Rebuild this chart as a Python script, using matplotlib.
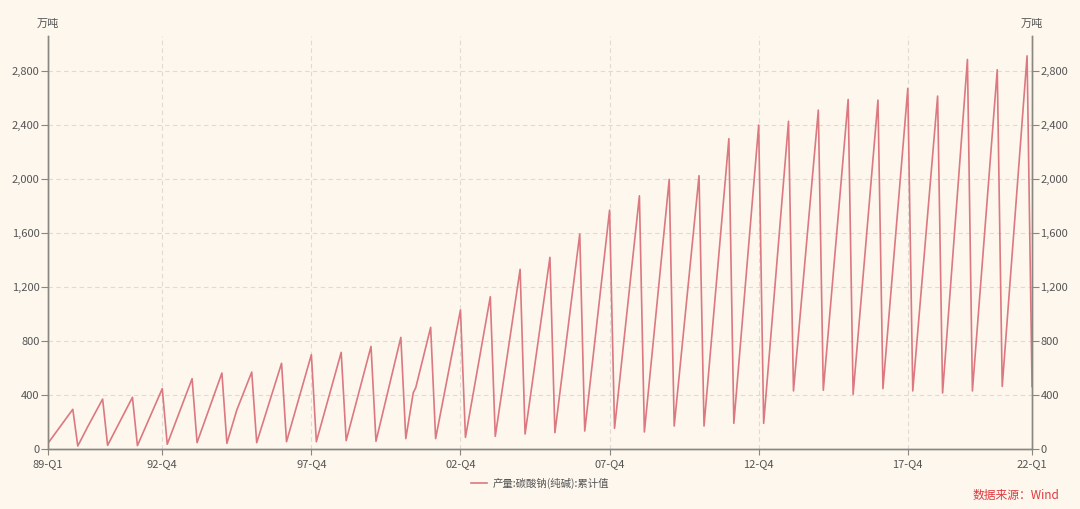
import matplotlib
matplotlib.use("Agg")
import matplotlib.pyplot as plt
import pandas as pd

plt.rcParams['font.family'] = ['Noto Sans CJK SC', 'DejaVu Sans']

# Cumulative soda ash output (万吨): Feb start, year-end peak, visible kinks
months = [
    "1989-02", "1989-12", "1990-02", "1990-06", "1990-12", "1991-02", "1991-12",
    "1992-02", "1992-12", "1993-02", "1993-12", "1994-02", "1994-12",
    "1995-02", "1995-06", "1995-12", "1996-02", "1996-12", "1997-02", "1997-12",
    "1998-02", "1998-12", "1999-02", "1999-12", "2000-02", "2000-12",
    "2001-02", "2001-05", "2001-06", "2001-12", "2002-02", "2002-12",
    "2003-02", "2003-12", "2004-02", "2004-12", "2005-02", "2005-12",
    "2006-02", "2006-12", "2007-02", "2007-12", "2008-02", "2008-12",
    "2009-02", "2009-12", "2010-02", "2010-12", "2011-02", "2011-12",
    "2012-02", "2012-12", "2013-02", "2013-12", "2014-02", "2014-12",
    "2015-02", "2015-12", "2016-02", "2016-12", "2017-02", "2017-12",
    "2018-02", "2018-12", "2019-02", "2019-12", "2020-02", "2020-12",
    "2021-02", "2021-12", "2022-02",
]
values = [
    42, 294, 22, 165, 370, 27, 383,
    25, 447, 35, 521, 47, 563,
    42, 289, 570, 47, 635, 54, 699,
    54, 716, 62, 760, 57, 827,
    77, 417, 454, 901, 77, 1030,
    86, 1128, 94, 1331, 111, 1420,
    121, 1593, 133, 1770, 153, 1876,
    126, 1998, 170, 2025, 170, 2299,
    190, 2400, 190, 2428, 430, 2511,
    435, 2590, 405, 2585, 447, 2672,
    430, 2615, 415, 2886, 430, 2810,
    464, 2913, 462,
]
tick_months = ["1989-02", "1992-12", "1997-12", "2002-12", "2007-12", "2012-12", "2017-12", "2022-02"]
tick_labels = ["89-Q1", "92-Q4", "97-Q4", "02-Q4", "07-Q4", "12-Q4", "17-Q4", "22-Q1"]
y_ticks = [0, 400, 800, 1200, 1600, 2000, 2400, 2800]

BG = '#FDF7EE'
LINE = '#DC7880'
TXT = '#555555'


def month_index(s):
    p = pd.Period(s, freq='M')
    return (p - pd.Period("1989-02", freq='M')).n


x = [month_index(m) for m in months]
xt = [month_index(m) for m in tick_months]

fig = plt.figure(figsize=(10.8, 5.09), dpi=100, facecolor=BG)
ax = fig.add_axes([0.0444, 0.1179, 0.9112, 0.8114])
ax.set_facecolor(BG)

ax.plot(x, values, color=LINE, lw=1.2, label='产量:碳酸钠(纯碱):累计值')

ax.set_xlim(0, month_index("2022-02"))
ax.set_ylim(0, 3060)
ax.set_xticks(xt)
ax.set_xticklabels(tick_labels)
ax.set_yticks(y_ticks)
ax.set_yticklabels([f'{v:,}' for v in y_ticks])

ax2 = ax.twinx()
ax2.set_ylim(ax.get_ylim())
ax2.set_yticks(y_ticks)
ax2.set_yticklabels([f'{v:,}' for v in y_ticks])

for a in (ax, ax2):
    a.spines['top'].set_visible(False)
    for s in ('left', 'right', 'bottom'):
        a.spines[s].set_color('#8A8680')
        a.spines[s].set_linewidth(1.0)
    a.tick_params(colors='#8A8680', labelcolor=TXT, labelsize=8, length=5, width=0.8, pad=1)
ax.tick_params(axis='x', length=4, pad=3)

ax.grid(True, color='#DEDBD5', ls=(0, (4, 3)), lw=0.8)
ax.set_axisbelow(True)

fig.text(0.0444, 0.953, '万吨', ha='center', va='center', fontsize=8, color=TXT)
fig.text(0.9556, 0.953, '万吨', ha='center', va='center', fontsize=8, color=TXT)

ax.legend(loc='upper center', bbox_to_anchor=(0.5, -0.047), frameon=False,
          fontsize=7.5, labelcolor=TXT, handlelength=1.6, handletextpad=0.5)

fig.text(0.981, 0.026, '数据来源：Wind', ha='right', va='center', fontsize=8.5, color='#E0393E')

fig.savefig('out.png', dpi=100, facecolor=BG)
